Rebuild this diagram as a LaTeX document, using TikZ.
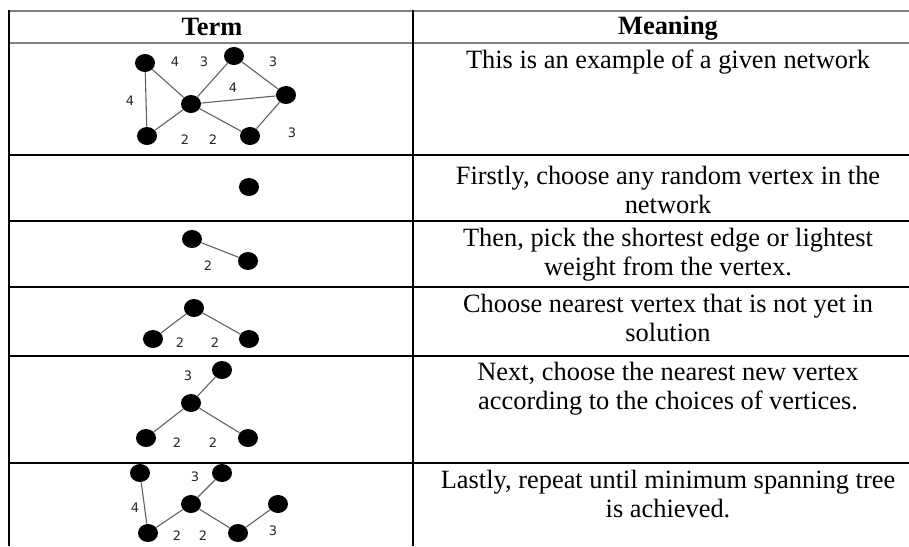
\documentclass[tikz,border=0pt]{standalone}
\usepackage{fontspec}
\setmainfont{Liberation Serif}
\newfontfamily\labfont{DejaVu Sans}
\usetikzlibrary{shapes.geometric}
\begin{document}
\begin{tikzpicture}[x=0.5pt,y=-0.5pt,
  vtx/.style={ellipse,fill=black,draw=none,minimum width=10pt,minimum height=9pt,inner sep=0pt},
  edg/.style={draw=black!62,line width=0.55pt},
  wlab/.style={font=\labfont\fontsize{6.5}{7}\selectfont,text=black!85,inner sep=0pt},
  txt/.style={font=\fontsize{13.2}{14.5}\selectfont,align=center,inner sep=0pt},
  hdr/.style={font=\fontsize{13.2}{14.5}\selectfont\bfseries,inner sep=0pt},
  grayrule/.style={draw=black!50,line width=0.8pt},
  blackrule/.style={draw=black,line width=1pt}]
\useasboundingbox (0,0) rectangle (909,546);
% table rules
\coordinate (tl) at (9,11);
\coordinate (tr) at (909,11);
\draw[grayrule] (tl) -- (tr);
\coordinate (hl) at (9,43);
\coordinate (hr) at (909,43);
\draw[grayrule] (hl) -- (hr);
\foreach \yy in {155,221,287,356,463}{
  \draw[blackrule] (9,\yy) -- (909,\yy);
}
\coordinate (lt) at (9,10);
\coordinate (lb) at (9,546);
\draw[blackrule] (lt) -- (lb);
\coordinate (mt) at (413,10);
\coordinate (mb) at (413,546);
\draw[blackrule] (mt) -- (mb);
% headers
\node[hdr] (hterm) at (212,27) {Term};
\node[hdr] (hmean) at (668,28) {Meaning};
% meanings
\node[txt] (m1) at (668,62) {This is an example of a given network};
\node[txt,anchor=north] (m2) at (668,166) {Firstly, choose any random vertex in the\\network};
\node[txt,anchor=north] (m3) at (668,228) {Then, pick the shortest edge or lightest\\weight from the vertex.};
\node[txt,anchor=north] (m4) at (668,294) {Choose nearest vertex that is not yet in\\solution};
\node[txt,anchor=north] (m5) at (668,362) {Next, choose the nearest new vertex\\according to the choices of vertices.};
\node[txt,anchor=north] (m6) at (668,470) {Lastly, repeat until minimum spanning tree\\is achieved.};
% row 1 network
\node[vtx] (a1) at (145,63) {};
\node[vtx] (b1) at (147,136) {};
\node[vtx] (c1) at (191,104) {};
\node[vtx] (d1) at (234,56) {};
\node[vtx] (e1) at (286,95) {};
\node[vtx] (f1) at (250,136) {};
\draw[edg] (a1) -- (b1);
\draw[edg] (a1) -- (c1);
\draw[edg] (b1) -- (c1);
\draw[edg] (c1) -- (d1);
\draw[edg] (c1) -- (e1);
\draw[edg] (c1) -- (f1);
\draw[edg] (d1) -- (e1);
\draw[edg] (e1) -- (f1);
\node[wlab] (l11) at (175,62) {4};
\node[wlab] (l12) at (204,62) {3};
\node[wlab] (l13) at (273,62) {3};
\node[wlab] (l14) at (130,101) {4};
\node[wlab] (l15) at (233,88) {4};
\node[wlab] (l16) at (185,140) {2};
\node[wlab] (l17) at (213,140) {2};
\node[wlab] (l18) at (292,133) {3};
% row 2
\node[vtx] (a2) at (249,187) {};
% row 3
\node[vtx] (a3) at (192,239) {};
\node[vtx] (b3) at (248,261) {};
\draw[edg] (a3) -- (b3);
\node[wlab] (l31) at (208,266) {2};
% row 4
\node[vtx] (a4) at (194,308) {};
\node[vtx] (b4) at (153,339) {};
\node[vtx] (c4) at (249,339) {};
\draw[edg] (a4) -- (b4);
\draw[edg] (a4) -- (c4);
\node[wlab] (l41) at (180,343) {2};
\node[wlab] (l42) at (215,343) {2};
% row 5
\node[vtx] (a5) at (222,370) {};
\node[vtx] (b5) at (191,403) {};
\node[vtx] (c5) at (146,438) {};
\node[vtx] (d5) at (248,438) {};
\draw[edg] (b5) -- (a5);
\draw[edg] (b5) -- (c5);
\draw[edg] (b5) -- (d5);
\node[wlab] (l51) at (188,376) {3};
\node[wlab] (l52) at (177,443) {2};
\node[wlab] (l53) at (213,443) {2};
% row 6
\node[vtx] (a6) at (140,473) {};
\node[vtx] (b6) at (222,473) {};
\node[vtx] (c6) at (191,504) {};
\node[vtx] (d6) at (278,504) {};
\node[vtx] (e6) at (148,533) {};
\node[vtx] (f6) at (238,533) {};
\draw[edg] (a6) -- (e6);
\draw[edg] (e6) -- (c6);
\draw[edg] (c6) -- (b6);
\draw[edg] (c6) -- (f6);
\draw[edg] (f6) -- (d6);
\node[wlab] (l61) at (195,477) {3};
\node[wlab] (l62) at (135,508) {4};
\node[wlab] (l63) at (177,536) {2};
\node[wlab] (l64) at (203,536) {2};
\node[wlab] (l65) at (273,531) {3};
\end{tikzpicture}
\end{document}
